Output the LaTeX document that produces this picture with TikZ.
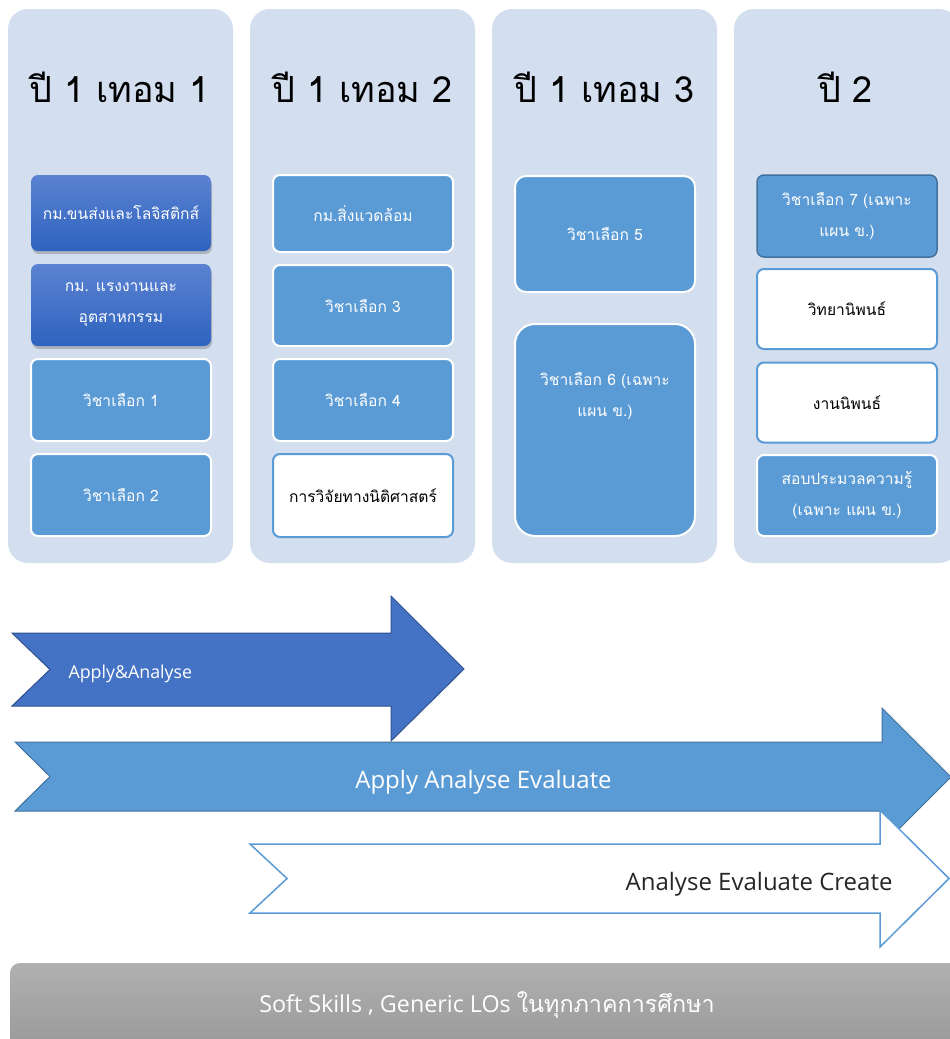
\documentclass[tikz,border=0pt]{standalone}
\usepackage{fontspec}
\newfontfamily\thaifont[Script=Thai]{Loma}
\newfontfamily\latinfont{Open Sans}
\usetikzlibrary{shadows}
\definecolor{colbg}{HTML}{D3DEEF}
\definecolor{boxblue}{HTML}{5B9BD5}
\definecolor{boxedge}{HTML}{41719C}
\definecolor{darkblue}{HTML}{4472C4}
\definecolor{darkedge}{HTML}{2F528F}
\definecolor{gradtop}{HTML}{5B82D2}
\definecolor{gradbot}{HTML}{2E63BE}
\tikzset{
  colbox/.style={fill=colbg, rounded corners=20pt},
  title/.style={anchor=base, font={\thaifont\fontsize{36}{40}\selectfont}, text=black},
  course/.style={minimum width=180pt, rounded corners=7pt, align=center,
    font={\thaifont\fontsize{15.6}{31}\selectfont}, inner sep=0pt},
  bluebox/.style={course, fill=boxblue, draw=white, line width=2pt, text=white},
  whitebox/.style={course, fill=white, draw=boxblue, line width=2pt, text=black},
  darkbox/.style={course, top color=gradtop, bottom color=gradbot, draw=none, text=white,
    drop shadow={opacity=0.45, shadow xshift=1pt, shadow yshift=-3pt}},
  edgebox/.style={course, fill=boxblue, draw=boxedge, line width=1.5pt, text=white},
  arrowtext/.style={font={\latinfont\fontsize{24}{26}\selectfont}, anchor=base},
}
\begin{document}
\begin{tikzpicture}[x=1pt,y=-1pt]
\useasboundingbox (0,0) rectangle (950,1039);
% columns
\path[colbox] (8,9) rectangle (233,563);
\path[colbox] (250,9) rectangle (475,563);
\path[colbox] (492,9) rectangle (717,563);
\path[colbox] (734,9) rectangle (959,563);
% titles
\node[title] (t1) at (119.5,102) {ปี 1 เทอม 1};
\node[title] (t2) at (362.5,102) {ปี 1 เทอม 2};
\node[title] (t3) at (604.5,102) {ปี 1 เทอม 3};
\node[title] (t4) at (845.5,102) {ปี 2};
% column 1
\node[darkbox, minimum height=76pt] (c1a) at (121,213) {กม.ขนส่งและโลจิสติกส์};
\node[darkbox, minimum height=82pt] (c1b) at (121,305) {กม. แรงงานและ\\อุตสาหกรรม};
\node[bluebox, minimum height=82pt] (c1c) at (121,400) {วิชาเลือก 1};
\node[bluebox, minimum height=82pt] (c1d) at (121,495) {วิชาเลือก 2};
% column 2
\node[bluebox, minimum height=77pt] (c2a) at (363,213.5) {กม.สิ่งแวดล้อม};
\node[bluebox, minimum height=81pt] (c2b) at (363,305.5) {วิชาเลือก 3};
\node[bluebox, minimum height=82pt] (c2c) at (363,400) {วิชาเลือก 4};
\node[whitebox, minimum height=83pt] (c2d) at (363,495.5) {การวิจัยทางนิติศาสตร์};
% column 3
\node[bluebox, minimum height=116pt, rounded corners=11pt] (c3a) at (605,234) {วิชาเลือก 5};
\node[bluebox, minimum height=212pt, rounded corners=20pt] (c3b) at (605,430) {วิชาเลือก 6 (เฉพาะ\\แผน ข.)\\[40pt]};
% column 4
\node[edgebox, minimum height=82pt] (c4a) at (847,216) {วิชาเลือก 7 (เฉพาะ\\แผน ข.)};
\node[whitebox, minimum height=80pt] (c4b) at (847,309) {วิทยานิพนธ์};
\node[whitebox, minimum height=80pt] (c4c) at (847,402.5) {งานนิพนธ์};
\node[bluebox, minimum height=81pt] (c4d) at (847,495.5) {สอบประมวลความรู้\\(เฉพาะ แผน ข.)};
% arrows
\path[fill=darkblue, draw=darkedge, line width=1pt]
  (12,633) -- (391,633) -- (391,596) -- (464,669) -- (391,741) -- (391,706) -- (12,706) -- (50,669.5) -- cycle;
\node[arrowtext, anchor=base west, text=white, font={\latinfont\fontsize{17.8}{20}\selectfont}] (a1) at (65,678) {Apply\&Analyse};
\path[fill=boxblue, draw=boxedge, line width=1pt]
  (15,742) -- (882,742) -- (882,708) -- (951,777) -- (882,846) -- (882,811) -- (15,811) -- (50,776.5) -- cycle;
\node[arrowtext, text=white] (a2) at (483.5,788) {Apply Analyse Evaluate};
\path[fill=white, draw=boxblue, line width=1.5pt]
  (250,844) -- (880,844) -- (880,810) -- (949,878.5) -- (880,947) -- (880,913) -- (250,913) -- (287,878.5) -- cycle;
\node[arrowtext, anchor=base east, text=black!85] (a3) at (896,890) {Analyse Evaluate Create};
% bottom bar
\path[top color=black!31, bottom color=black!41, rounded corners=10pt,
  drop shadow={opacity=0.3, shadow xshift=0pt, shadow yshift=-2pt}]
  (10,963) rectangle (965,1060);
\node[anchor=base, text=white, font={\latinfont\fontsize{23.3}{26}\selectfont}] (bar) at (487,1012)
  {Soft Skills , Generic LOs {\thaifont ในทุกภาคการศึกษา}};
\end{tikzpicture}
\end{document}
